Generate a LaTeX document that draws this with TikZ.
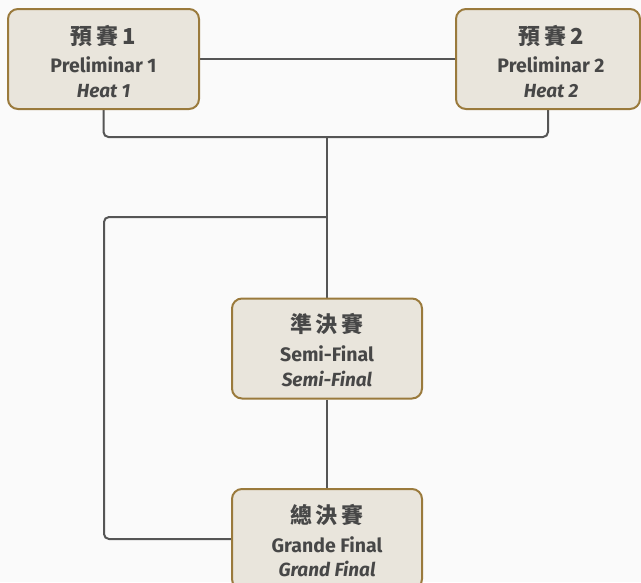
\documentclass[tikz,border=0pt]{standalone}
\usepackage{fontspec}
\setmainfont{Fira Sans}
\newfontfamily\cjk{Noto Sans CJK TC}
\usetikzlibrary{calc}
\pgfdeclarelayer{paper}
\pgfdeclarelayer{wires}
\pgfsetlayers{paper,wires,main}
\definecolor{bg}{HTML}{FAFAFA}
\definecolor{boxfill}{HTML}{E9E5DC}
\definecolor{boxborder}{HTML}{9A7A3C}
\definecolor{linecol}{HTML}{555555}
\definecolor{txt}{HTML}{474747}
\begin{document}
\begin{tikzpicture}[x=1pt,y=-1pt,
  box/.style={draw=boxborder, fill=boxfill, line width=2pt, rounded corners=10pt,
    minimum height=100pt, inner sep=0pt},
  conn/.style={draw=linecol, line width=2pt, rounded corners=5pt},
  ttl/.style={anchor=base, text=txt, inner sep=0pt, font=\cjk\bfseries\fontsize{22}{22}\selectfont},
  sub/.style={anchor=base, text=txt, inner sep=0pt, font=\bfseries\fontsize{19.5}{19.5}\selectfont},
  ita/.style={anchor=base, text=txt, inner sep=0pt, font=\bfseries\itshape\fontsize{19}{19}\selectfont}]
\useasboundingbox (0,0) rectangle (641,582);
\begin{pgfonlayer}{paper}
\fill[bg] (0,0) rectangle (641,582);
\end{pgfonlayer}
\clip (0,0) rectangle (641,582);
\node[box, minimum width=191pt] (p1) at (103.5,59) {};
\node[box, minimum width=184pt] (p2) at (548,59) {};
\node[box, minimum width=190pt] (semi) at (327,348.5) {};
\node[box, minimum width=190pt] (grand) at (327,539) {};
\coordinate (j) at (327,137);
\coordinate (k) at (327,217);
\coordinate (L) at (104,539);
\begin{pgfonlayer}{wires}
\draw[conn] (p1.east) -- (p2.west);
\draw[conn] (p1.south) |- (j) -| (p2.south);
\draw[conn] (j) -- (semi.north);
\draw[conn] (k) -| (L) -- (grand.west);
\draw[conn] (semi.south) -- (grand.north);
\end{pgfonlayer}
% texts
\node[ttl] (p1t) at ($(p1.center)+(0,-15)$) {預\hspace{4pt}賽\hspace{4pt}1};
\node[sub] (p1s) at ($(p1.center)+(0,13)$) {Preliminar 1};
\node[ita] (p1i) at ($(p1.center)+(0,38)$) {Heat 1};
\node[ttl] (p2t) at ($(p2.center)+(3,-15)$) {預\hspace{4pt}賽\hspace{4pt}2};
\node[sub] (p2s) at ($(p2.center)+(3,13)$) {Preliminar 2};
\node[ita] (p2i) at ($(p2.center)+(3,38)$) {Heat 2};
\node[ttl] (st) at ($(semi.center)+(0,-16)$) {準\hspace{4pt}決\hspace{4pt}賽};
\node[sub] (ss) at ($(semi.center)+(0,13)$) {Semi-Final};
\node[ita] (si) at ($(semi.center)+(0,38)$) {Semi-Final};
\node[ttl] (gt) at ($(grand.center)+(0,-16)$) {總\hspace{4pt}決\hspace{4pt}賽};
\node[sub] (gs) at ($(grand.center)+(0,13)$) {Grande Final};
\node[ita] (gi) at ($(grand.center)+(0,37)$) {Grand Final};
\end{tikzpicture}
\end{document}
